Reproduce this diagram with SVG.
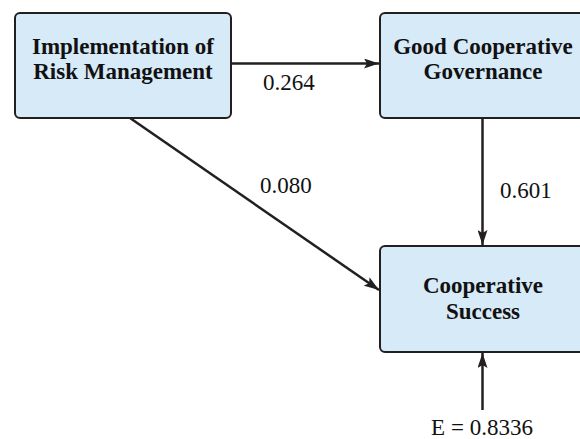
<svg xmlns="http://www.w3.org/2000/svg" width="580" height="439" viewBox="0 0 580 439">
<style>
.box{fill:#d7eaf8;stroke:#231f20;stroke-width:2}
.lbl{font-family:'Liberation Serif',serif;font-weight:700;font-size:23px;fill:#111;text-anchor:middle}
.num{font-family:'Liberation Serif',serif;font-size:23px;fill:#111}
.edge{stroke:#231f20;stroke-width:2.5;fill:none;marker-end:url(#ah)}
</style>
<defs>
<marker id="ah" viewBox="0 0 15 10" refX="15" refY="5" markerWidth="15" markerHeight="10" markerUnits="userSpaceOnUse" orient="auto">
<path d="M0,0 L15,5 L0,10 L3,5 Z" fill="#231f20"/>
</marker>
</defs>
<g id="connectors">
<line class="edge" x1="231" y1="63.5" x2="379" y2="63.5"/>
<line class="edge" x1="130" y1="118" x2="379" y2="290"/>
<line class="edge" x1="482.5" y1="119" x2="482.5" y2="245"/>
<line class="edge" x1="482.5" y1="410" x2="482.5" y2="353"/>
</g>
<g id="n1">
<rect class="box" x="15" y="13" width="216" height="105" rx="5"/>
<text class="lbl" x="123" y="54">Implementation of</text>
<text class="lbl" x="123" y="79">Risk Management</text>
</g>
<g id="n2">
<rect class="box" x="380" y="13" width="206" height="105" rx="5"/>
<text class="lbl" x="483" y="54">Good Cooperative</text>
<text class="lbl" x="483" y="79">Governance</text>
</g>
<g id="n3">
<rect class="box" x="380" y="246" width="206" height="106" rx="5"/>
<text class="lbl" x="483" y="293">Cooperative</text>
<text class="lbl" x="483" y="319">Success</text>
</g>
<g id="labels">
<text class="num" x="263" y="90">0.264</text>
<text class="num" x="260" y="193">0.080</text>
<text class="num" x="500" y="198">0.601</text>
<text class="num" x="482" y="435" text-anchor="middle">E = 0.8336</text>
</g>
</svg>
